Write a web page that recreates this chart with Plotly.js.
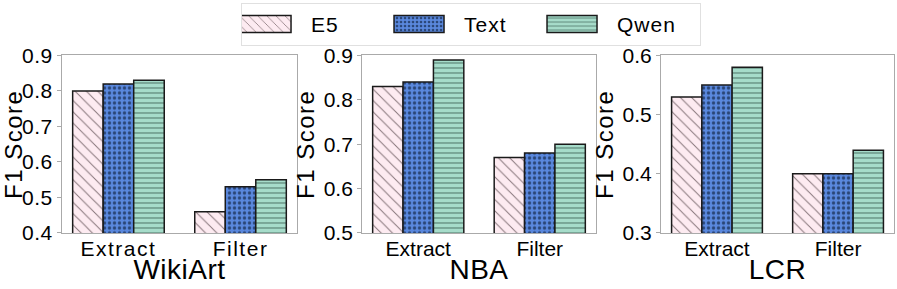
<!DOCTYPE html>
<html>
<head>
<meta charset="utf-8">
<script src="https://cdn.plot.ly/plotly-3.0.1.min.js"></script>
<style>
html,body{margin:0;padding:0;background:#fff;}
#chart{width:897px;height:289px;}
.xtick text{letter-spacing:1.5px;}
.ytick text{letter-spacing:0.5px;}
.g-ytitle text,.g-y2title text,.g-y3title text{letter-spacing:1.5px;}
.g-xtitle text,.g-x2title text,.g-x3title text{letter-spacing:0.5px;}
.legendtext{letter-spacing:1px;}
</style>
</head>
<body>
<div id="chart"></div>
<script>
const categories = ["Extract", "Filter"];
const datasets = ["WikiArt", "NBA", "LCR"];
const seriesNames = ["E5", "Text", "Qwen"];
// values per dataset and series: [Extract, Filter]
const wikiE5 = [0.80, 0.46];
const wikiText = [0.82, 0.53];
const wikiQwen = [0.83, 0.55];
const nbaE5 = [0.83, 0.67];
const nbaText = [0.84, 0.68];
const nbaQwen = [0.89, 0.70];
const lcrE5 = [0.53, 0.40];
const lcrText = [0.55, 0.40];
const lcrQwen = [0.58, 0.44];
const yRanges = [[0.4, 0.9], [0.5, 0.9], [0.3, 0.6]];
const yTicks = [[0.4,0.5,0.6,0.7,0.8,0.9],[0.5,0.6,0.7,0.8,0.9],[0.3,0.4,0.5,0.6]];

const values = [[wikiE5, wikiText, wikiQwen],[nbaE5, nbaText, nbaQwen],[lcrE5, lcrText, lcrQwen]];
const styles = [
  {bg:"#fdebf1", fg:"#857479", shape:"\\", size:8, solidity:0.12},
  {bg:"#5a88de", fg:"#2a4677", shape:".", size:5, solidity:0.35},
  {bg:"#a6dcca", fg:"#4e7467", shape:"-", size:5, solidity:0.2}
];
const FONT = "Liberation Sans, Arial, sans-serif";
const traces = [];
const xd = [[0.0691,0.3311],[0.4036,0.6644],[0.7369,0.9967]];
const yd = [0.1938, 0.808];
const layout = {
  width: 897, height: 289,
  margin: {l:0, r:0, t:0, b:0},
  paper_bgcolor: "#fff", plot_bgcolor: "#fff",
  barmode: "group", bargap: 0.25, bargroupgap: 0,
  font: {family: FONT, color: "#000"},
  showlegend: true,
  legend: {orientation: "h", x: 0.2687, xanchor: "left", y: 0.99, yanchor: "top",
    bordercolor: "#e0e0e0", borderwidth: 1, font: {size: 21, family: FONT},
    itemwidth: 60, entrywidth: 78, entrywidthmode: "pixels"}
};
datasets.forEach((ds, d) => {
  const ax = d === 0 ? "" : String(d+1);
  seriesNames.forEach((s, i) => {
    const st = styles[i];
    traces.push({
      type: "bar", name: s, x: categories, y: values[d][i],
      xaxis: "x"+ax, yaxis: "y"+ax, showlegend: d === 0, legendgroup: s,
      base: 0,
      marker: {color: st.bg, line: {color: "#1a1a1a", width: 1.5},
        pattern: {shape: st.shape, fgcolor: st.fg, bgcolor: st.bg, size: st.size, solidity: st.solidity, fillmode: "replace"}},
      hoverinfo: "none"
    });
  });
  layout["xaxis"+ax] = {
    domain: xd[d], anchor: "y"+ax, range: [-0.4625, 1.4625],
    showline: true, mirror: true, linecolor: "#aaaaaa", linewidth: 1,
    ticks: "", tickfont: {size: 21, family: FONT}, ticklabelstandoff: -3,
    title: {text: ds, font: {size: 28, family: FONT}, standoff: 0},
    fixedrange: true
  };
  layout["yaxis"+ax] = {
    domain: yd, anchor: "x"+ax, range: yRanges[d],
    tickvals: yTicks[d], ticktext: yTicks[d].map(v => v.toFixed(1)),
    showline: true, mirror: true, linecolor: "#aaaaaa", linewidth: 1,
    showgrid: false, zeroline: false,
    ticks: "outside", ticklen: 4, tickcolor: "#aaaaaa",
    tickfont: {size: 21, family: FONT},
    title: {text: "F1 Score", font: {size: 24, family: FONT}, standoff: 2},
    fixedrange: true
  };
});
function widenLegendSwatches(gd) {
  gd.querySelectorAll(".legend .traces").forEach(tr => {
    const txt = tr.querySelector("text.legendtext");
    if (!txt) return;
    const tx = parseFloat(txt.getAttribute("x")) || 70;
    const trM = tr.getCTM();
    tr.querySelectorAll(".legendpoints path").forEach(p => {
      const pm = p.parentNode.getCTM();
      const cx = pm.e - trM.e;
      const want = tx - 20 - 25;
      p.setAttribute("d", "M25,8.5H-25V-8.5H25Z");
      p.setAttribute("transform", "translate(" + (want - cx) + ",0)");
    });
  });
}
function nudgeXTitles(gd) {
  gd.querySelectorAll(".g-xtitle text, .g-x2title text, .g-x3title text").forEach(t => {
    const y = parseFloat(t.getAttribute("y"));
    if (!isNaN(y)) t.setAttribute("y", y - 4);
  });
}
Plotly.newPlot("chart", traces, layout, {staticPlot: true}).then(gd => { widenLegendSwatches(gd); nudgeXTitles(gd); });
</script>
</body>
</html>
